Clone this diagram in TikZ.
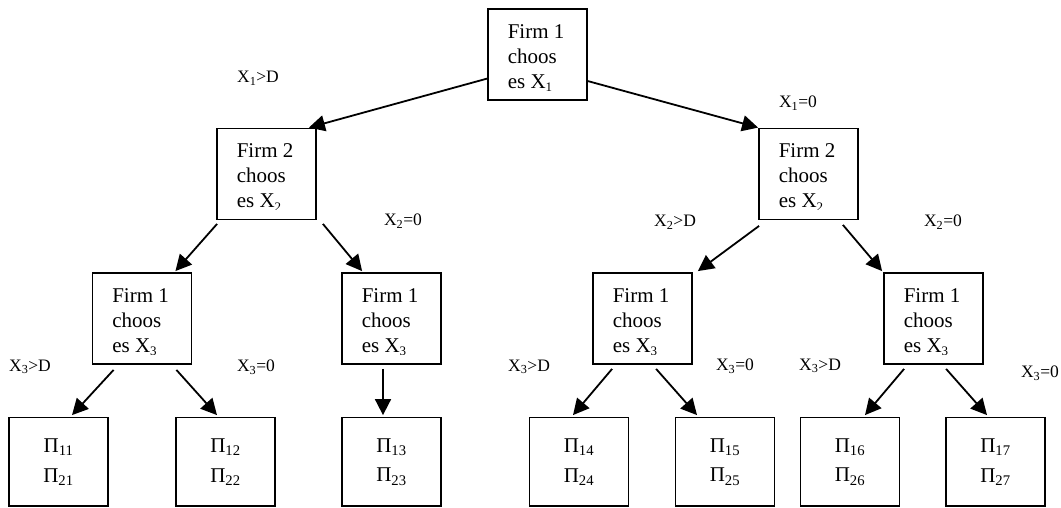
\documentclass[tikz,border=0pt]{standalone}
\usepackage{fontspec}
\setmainfont{Liberation Serif}
\usetikzlibrary{arrows.meta,calc}
\tikzset{
  dbox/.style={draw, line width=1.8pt, minimum width=99pt, minimum height=91pt, inner sep=0pt},
  dtext/.style={inner sep=0pt, align=left, font=\fontsize{21}{25}\selectfont},
  leaf/.style={draw, line width=1.8pt, minimum width=99pt, minimum height=88.5pt, inner sep=0pt, align=center, font=\fontsize{21}{30}\selectfont},
  lbl/.style={inner sep=0pt, font=\fontsize{17.5}{20}\selectfont},
  arr/.style={line width=1.8pt, -{Triangle[length=16pt,width=16pt]}}
}
\newcommand{\lowsub}[1]{\raisebox{-3.5pt}{\fontsize{13}{13}\selectfont #1}}
\newcommand{\decbox}[5]{%
  \node[dbox] (#1) at (#2,#3) {};
  \begin{scope}
    \clip (#1.north west) rectangle ($(#1.south east)+(0,-10.6)$);
    \node[dtext, anchor=north west] (#1-t) at ($(#1.north west)+(20.5,15.8)$) {Firm #4\\choos\\es X\lowsub{#5}};
  \end{scope}}
\begin{document}
\begin{tikzpicture}[x=1pt,y=-1pt]
\useasboundingbox (0,0) rectangle (1061,508);
% decision boxes
\decbox{t}{537.5}{54.5}{1}{1}
\decbox{a}{266.5}{174}{2}{2}
\decbox{b}{808.5}{174}{2}{2}
\decbox{c1}{142}{318.5}{1}{3}
\decbox{c2}{391.5}{318.5}{1}{3}
\decbox{c3}{642.5}{318.5}{1}{3}
\decbox{c4}{933.5}{318.5}{1}{3}
% leaves
\node[leaf] (l11) at (58.5,461.75) {Π\textsubscript{11}\\Π\textsubscript{21}};
\node[leaf] (l12) at (225.5,461.75) {Π\textsubscript{12}\\Π\textsubscript{22}};
\node[leaf] (l13) at (391.5,461.75) {Π\textsubscript{13}\\Π\textsubscript{23}};
\node[leaf] (l14) at (579,461.75) {Π\textsubscript{14}\\Π\textsubscript{24}};
\node[leaf] (l15) at (725,461.75) {Π\textsubscript{15}\\Π\textsubscript{25}};
\node[leaf] (l16) at (850,461.75) {Π\textsubscript{16}\\Π\textsubscript{26}};
\node[leaf] (l17) at (995.5,461.75) {Π\textsubscript{17}\\Π\textsubscript{27}};
% arrows
\draw[arr] ($(t.north west)+(0,70.5)$) -- ($(a.north east)+(-8,0)$);
\draw[arr] ($(t.north east)+(0,73)$) -- (b.north west);
\draw[arr] ($(a.south west)+(1,3.5)$) -- ($(c1.north east)+(-17,-1)$);
\draw[arr] ($(a.south east)+(6,3.5)$) -- ($(c2.north west)+(21,-1)$);
\draw[arr] ($(b.south west)+(1,5.5)$) -- ($(c3.north east)+(5,-1)$);
\draw[arr] ($(b.south east)+(-16,4.5)$) -- ($(c4.north west)+(-1,-1)$);
\draw[arr] ($(c1.south west)+(22,5)$) -- ($(l11.north)+(13.5,-1.5)$);
\draw[arr] ($(c1.south east)+(-16,5)$) -- ($(l12.north)+(-8.5,-1.5)$);
\draw[arr] ($(c2.south)+(-8.5,4)$) -- ($(l13.north)+(-8.5,-1.5)$);
\draw[arr] ($(c3.south west)+(20,4)$) -- ($(l14.north)+(-6,-1.5)$);
\draw[arr] ($(c3.south west)+(64,4)$) -- ($(l15.north)+(-28,-1.5)$);
\draw[arr] ($(c4.south west)+(21,4)$) -- ($(l16.north)+(15,-1.5)$);
\draw[arr] ($(c4.south west)+(63,4)$) -- ($(l17.north)+(-8.5,-1.5)$);
% labels
\node[lbl] (x1d) at (258,78) {X\textsubscript{1}>D};
\node[lbl] (x10) at (798,103) {X\textsubscript{1}=0};
\node[lbl] (x20a) at (403,221) {X\textsubscript{2}=0};
\node[lbl] (x2d) at (675,222) {X\textsubscript{2}>D};
\node[lbl] (x20b) at (943,222) {X\textsubscript{2}=0};
\node[lbl] (x3da) at (30,367) {X\textsubscript{3}>D};
\node[lbl] (x30a) at (256,367) {X\textsubscript{3}=0};
\node[lbl] (x3db) at (529,367) {X\textsubscript{3}>D};
\node[lbl] (x30b) at (735,366) {X\textsubscript{3}=0};
\node[lbl] (x3dc) at (820,366) {X\textsubscript{3}>D};
\node[lbl] (x30c) at (1040,373) {X\textsubscript{3}=0};
\end{tikzpicture}
\end{document}
